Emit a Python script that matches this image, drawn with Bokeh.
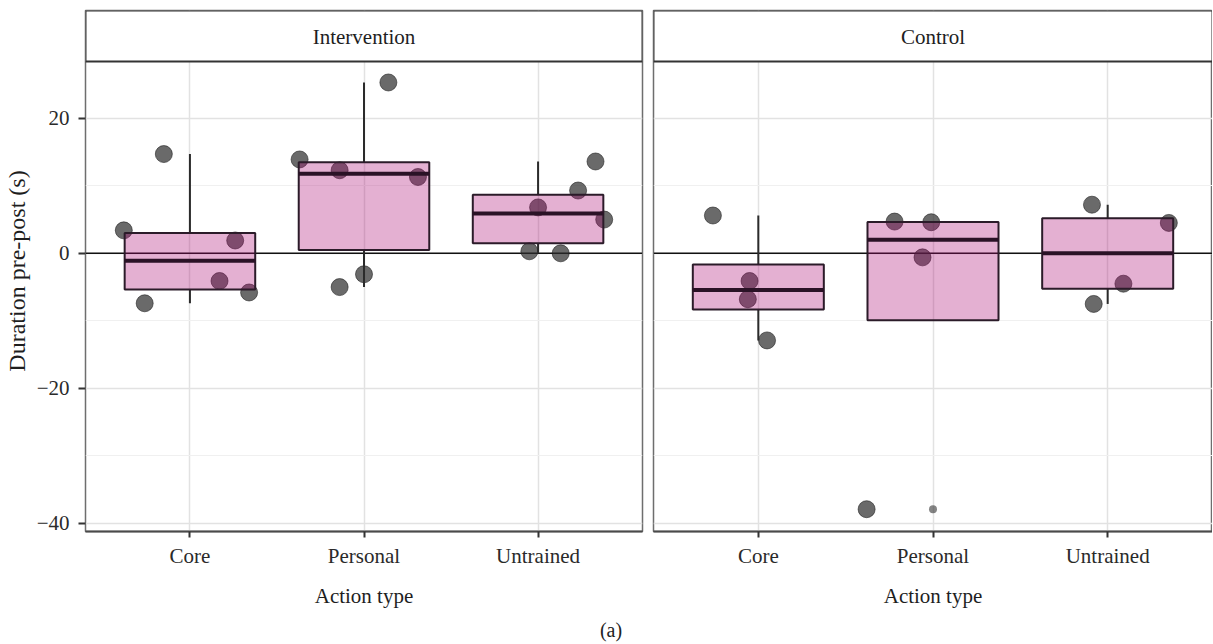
import numpy as np
from bokeh.plotting import figure
from bokeh.models import FixedTicker, Range1d, BoxAnnotation, Label, Span, Div, ColumnDataSource
from bokeh.layouts import row, column
from bokeh.embed import file_html
from bokeh.resources import INLINE

# ---------------- data ----------------
categories = ["Core", "Personal", "Untrained"]
groups = ["Intervention", "Control"]

int_core = [3.4, 14.7, -7.4, 1.9, -4.1, -5.8]
int_personal = [13.9, 12.3, -5.0, -3.1, 25.3, 11.3]
int_untrained = [13.6, 9.3, 6.8, 5.0, 0.3, 0.0]
ctl_core = [5.6, -4.1, -6.8, -12.9]
ctl_personal = [4.7, 4.6, -0.6, -37.9]
ctl_untrained = [7.2, 4.5, -4.5, -7.5]

# horizontal jitter of each point (in category units)
int_core_jit = [-0.38, -0.15, -0.26, 0.26, 0.17, 0.34]
int_personal_jit = [-0.37, -0.14, -0.14, 0.0, 0.14, 0.31]
int_untrained_jit = [0.33, 0.23, 0.0, 0.38, -0.05, 0.13]
ctl_core_jit = [-0.26, -0.05, -0.06, 0.05]
ctl_personal_jit = [-0.22, -0.01, -0.06, -0.38]
ctl_untrained_jit = [-0.09, 0.35, 0.09, -0.08]

y_ticks = [-40, -20, 0, 20]
y_minor = [-30, -10, 10]

panels = {
    "Intervention": [(int_core, int_core_jit), (int_personal, int_personal_jit), (int_untrained, int_untrained_jit)],
    "Control": [(ctl_core, ctl_core_jit), (ctl_personal, ctl_personal_jit), (ctl_untrained, ctl_untrained_jit)],
}

FONT = "Liberation Serif"
BOX_FILL = "#AC0973"
DARK = "#2b1b29"
Y_LO, Y_HI = -41.2, 35.96
STRIP_BOTTOM = 28.4
STRIP_TEXT_Y = 32.0


def box_stats(vals):
    v = np.asarray(vals, float)
    q1, med, q3 = np.percentile(v, [25, 50, 75])
    iqr = q3 - q1
    lo_f, hi_f = q1 - 1.5 * iqr, q3 + 1.5 * iqr
    inside = v[(v >= lo_f) & (v <= hi_f)]
    out = v[(v < lo_f) | (v > hi_f)]
    lower = min(q1, inside.min())
    upper = max(q3, inside.max())
    return q1, med, q3, lower, upper, out


def make_panel(group, first):
    kw = dict(
        x_range=Range1d(0.4, 3.6), y_range=Range1d(Y_LO, Y_HI),
        output_backend="svg", toolbar_location=None, height=611,
        min_border_top=10, min_border_bottom=80,
        background_fill_color="white", border_fill_color="white",
    )
    if first:
        p = figure(width=647, min_border_left=83, min_border_right=5, **kw)
    else:
        p = figure(width=565, min_border_left=6, min_border_right=0, y_axis_location=None, **kw)

    p.outline_line_color = "#6e6e6e"
    p.outline_line_width = 1.5

    # grids
    p.ygrid.ticker = FixedTicker(ticks=y_ticks, minor_ticks=y_minor)
    p.ygrid.grid_line_color = "#e2e2e2"
    p.ygrid.grid_line_width = 1.5
    p.ygrid.minor_grid_line_color = "#f0f0f0"
    p.ygrid.minor_grid_line_width = 1
    p.xgrid.ticker = FixedTicker(ticks=[1, 2, 3])
    p.xgrid.grid_line_color = "#e2e2e2"
    p.xgrid.grid_line_width = 1.5

    # x axis
    xa = p.xaxis[0]
    xa.ticker = FixedTicker(ticks=[1, 2, 3])
    xa.major_label_overrides = {i + 1: c for i, c in enumerate(categories)}
    xa.axis_label = "Action type"
    xa.axis_label_text_font = FONT
    xa.axis_label_text_font_style = "normal"
    xa.axis_label_text_font_size = "21px"
    xa.axis_label_text_color = "#1e1e1e"
    xa.axis_label_standoff = 13
    xa.major_label_text_font = FONT
    xa.major_label_text_font_size = "21px"
    xa.major_label_text_color = "#2a2a2a"
    xa.major_label_standoff = 6
    xa.major_tick_out = 6
    xa.major_tick_in = 0
    xa.major_tick_line_color = "#333333"
    xa.major_tick_line_width = 2
    xa.minor_tick_line_color = None
    xa.axis_line_color = "#4a4a4a"
    xa.axis_line_width = 2

    if first:
        ya = p.yaxis[0]
        ya.ticker = FixedTicker(ticks=y_ticks)
        ya.major_label_overrides = {t: (str(t).replace("-", "\u2212")) for t in y_ticks}
        ya.axis_label = "Duration pre-post (s)"
        ya.axis_label_text_font = FONT
        ya.axis_label_text_font_style = "normal"
        ya.axis_label_text_font_size = "24px"
        ya.axis_label_text_color = "#1e1e1e"
        ya.axis_label_standoff = 4
        ya.major_label_text_font = FONT
        ya.major_label_text_font_size = "21px"
        ya.major_label_text_color = "#2a2a2a"
        ya.major_label_standoff = 9
        ya.major_tick_out = 7
        ya.major_tick_in = 0
        ya.major_tick_line_color = "#333333"
        ya.major_tick_line_width = 2
        ya.minor_tick_line_color = None
        ya.axis_line_color = None

    # reference line at 0
    p.add_layout(Span(location=0, dimension="width", line_color="#111111", line_width=1.6, level="underlay"))

    stats = []
    for i, (vals, jit) in enumerate(panels[group]):
        xc = i + 1
        src = ColumnDataSource(dict(x=[xc + j for j in jit], y=vals))
        p.scatter("x", "y", source=src, size=17, fill_color="#2b2b2b", fill_alpha=0.7,
                  line_color="#222222", line_alpha=0.6)
        stats.append((xc,) + box_stats(vals))

    xs = [s[0] for s in stats]
    q1 = [s[1] for s in stats]
    med = [s[2] for s in stats]
    q3 = [s[3] for s in stats]
    lo = [s[4] for s in stats]
    hi = [s[5] for s in stats]
    hw = 0.375
    bsrc = ColumnDataSource(dict(x=xs, l=[x - hw for x in xs], r=[x + hw for x in xs],
                                 q1=q1, med=med, q3=q3, lo=lo, hi=hi))
    p.segment("x", "q3", "x", "hi", source=bsrc, line_color="#2b2b2b", line_width=2)
    p.segment("x", "q1", "x", "lo", source=bsrc, line_color="#2b2b2b", line_width=2)
    p.quad(left="l", right="r", bottom="q1", top="q3", source=bsrc,
           fill_color=BOX_FILL, fill_alpha=0.32, line_color=DARK, line_width=2)
    p.segment("l", "med", "r", "med", source=bsrc, line_color="#2a1226", line_width=4)

    ox, oy = [], []
    for s in stats:
        for o in s[6]:
            ox.append(s[0])
            oy.append(o)
    if ox:
        p.scatter(ox, oy, size=8, fill_color="#333333", fill_alpha=0.6, line_color=None)

    # facet strip
    p.add_layout(BoxAnnotation(bottom=STRIP_BOTTOM, fill_color="white", fill_alpha=1.0,
                               line_color="#333333", line_width=2, line_alpha=1.0))
    p.add_layout(Label(x=2.0, y=STRIP_TEXT_Y, text=group, text_align="center", text_baseline="middle",
                       text_font=FONT, text_font_size="21px", text_color="#1e1e1e"))
    return p


p1 = make_panel("Intervention", True)
p2 = make_panel("Control", False)

caption = Div(text="(a)", width=1212, height=26,
              styles={"text-align": "center", "font-family": FONT, "font-size": "20px",
                      "color": "#222222"})

layout = column(row(p1, p2), caption)
open("out.html", "w").write(file_html(layout, INLINE))
